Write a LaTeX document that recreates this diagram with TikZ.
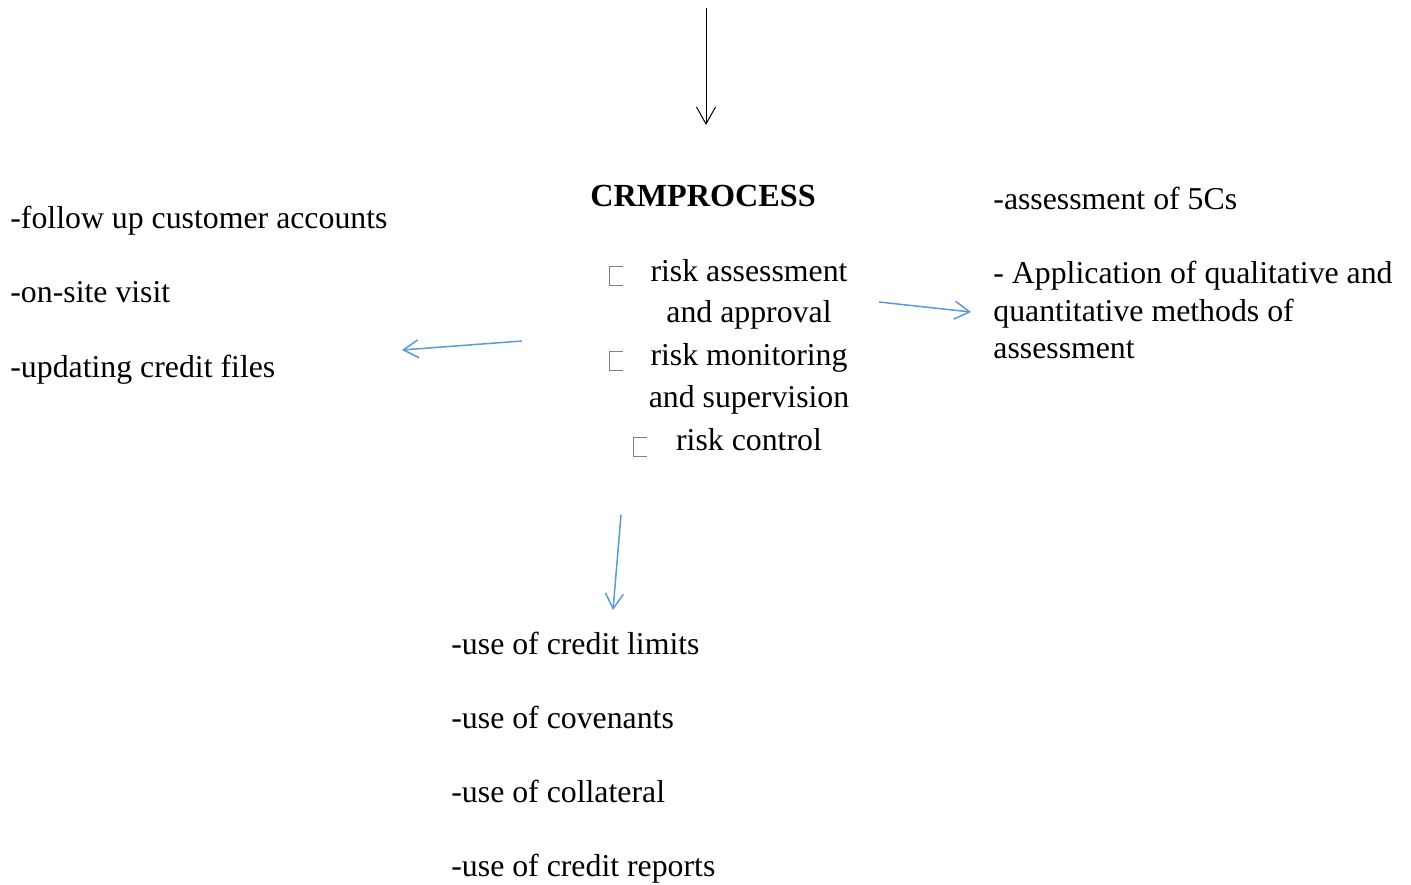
\documentclass[tikz,border=0pt]{standalone}
\usepackage{fontspec}
\setmainfont{Liberation Serif}
\usetikzlibrary{arrows.meta, positioning}
\definecolor{c1}{HTML}{000000}
\definecolor{c2}{HTML}{5B9BD5}
\definecolor{boxcolor}{HTML}{808080}

\begin{document}
\begin{tikzpicture}[
    x=0.5pt, y=-0.5pt,
    every node/.style={font=\fontsize{15.9}{19}\selectfont, inner sep=0pt},
    txt/.style={anchor=base west},
    item/.style={anchor=base},
    head/.style={anchor=base, font=\fontsize{16.1}{19}\selectfont\bfseries},
    link/.style={c2, line width=0.75pt, -{Straight Barb[length=7.5pt, width=9pt]}},
    box/.style={boxcolor, line width=0.5pt},
]
\useasboundingbox (0,0) rectangle (1411,884);

% ---------------------------------------------------------------- input
\coordinate (in) at (706,8);
\coordinate (top) at (706,125);
\draw[c1, line width=0.5pt, -{Straight Barb[length=8.5pt, width=9.5pt]}] (in) -- (top);

% ---------------------------------------------------------------- the process
\node[head] (crm) at (703,206) {CRMPROCESS};
\foreach \y/\t [count=\i] in {281/risk assessment, 322/and approval,
    365/risk monitoring, 407/and supervision, 450/risk control}{
    \node[item] (step\i) at (749,\y) {\t};
}
\foreach \x/\y in {609/266, 609/351, 633/437}{
    \draw[box] ({\x+14},\y) -- (\x,\y) -- (\x,{\y+19}) -- ({\x+14},{\y+19});
}

% ---------------------------------------------------------------- monitoring
\foreach \y/\t [count=\i] in {228/-follow up customer accounts,
    302/-on-site visit, 377/-updating credit files}{
    \node[txt] (watch\i) at (10,\y) {\t};
}

% ---------------------------------------------------------------- assessment
\node[txt] (five) at (993,209) {-assessment of 5Cs};
\foreach \y/\t [count=\i] in {283/- Application of qualitative and,
    321/quantitative methods of, 358/assessment}{
    \node[txt] (method\i) at (993,\y) {\t};
}

% ---------------------------------------------------------------- control
\foreach \y/\t [count=\i] in {654/-use of credit limits, 728/-use of covenants,
    802/-use of collateral, 876/-use of credit reports}{
    \node[txt] (ctl\i) at (451,\y) {\t};
}

% ---------------------------------------------------------------- links
\coordinate (l0) at (522,341);
\coordinate (l1) at (402,350);
\coordinate (r0) at (879,302);
\coordinate (r1) at (971,312);
\coordinate (d0) at (621,515);
\coordinate (d1) at (613,610);
\draw[link] (l0) -- (l1);
\draw[link] (r0) -- (r1);
\draw[link] (d0) -- (d1);

\end{tikzpicture}
\end{document}
